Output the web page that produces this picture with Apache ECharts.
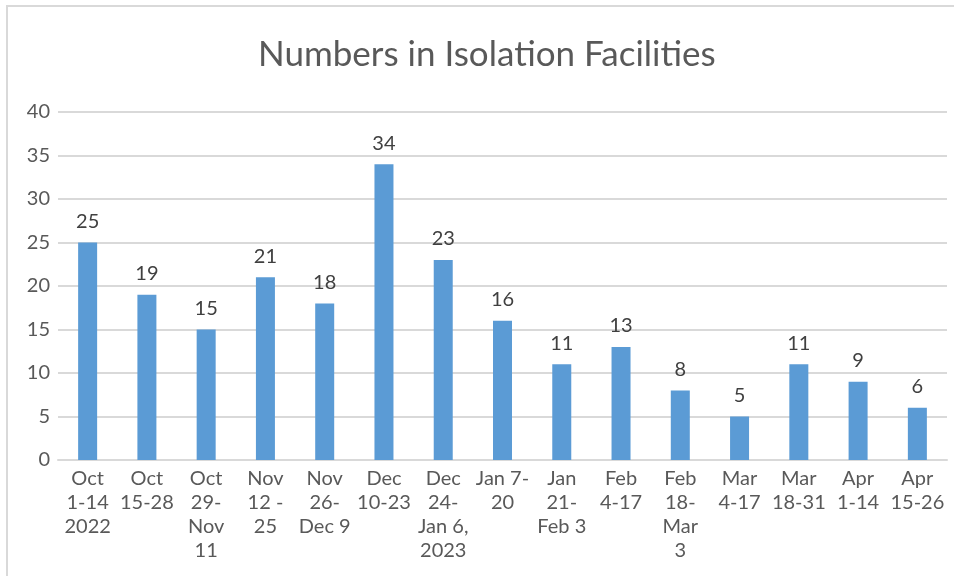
<!DOCTYPE html>
<html>
<head>
<meta charset="utf-8">
<script src="https://cdn.jsdelivr.net/npm/echarts@6/dist/echarts.min.js"></script>
<style>
  html, body { margin: 0; padding: 0; background: #fff; }
  #chart { width: 954px; height: 576px; }
</style>
</head>
<body>
<div id="chart"></div>
<script>
const categories = [
  'Oct\n1-14\n2022', 'Oct\n15-28', 'Oct\n29-\nNov\n11', 'Nov\n12 -\n25', 'Nov\n26-\nDec 9',
  'Dec\n10-23', 'Dec\n24-\nJan 6,\n2023', 'Jan 7-\n20', 'Jan\n21-\nFeb 3', 'Feb\n4-17',
  'Feb\n18-\nMar\n3', 'Mar\n4-17', 'Mar\n18-31', 'Apr\n1-14', 'Apr\n15-26'
];
const counts = [25, 19, 15, 21, 18, 34, 23, 16, 11, 13, 8, 5, 11, 9, 6];
const yTicks = {min: 0, max: 40, interval: 5};

const font = 'Lato, "Open Sans", sans-serif';
var myChart = echarts.init(document.getElementById('chart'));

myChart.setOption({
  animation: false,
  textStyle: {fontFamily: font, color: '#595959'},
  title: {
    text: 'Numbers in Isolation Facilities',
    left: 253,
    top: 32,
    textStyle: {fontFamily: font, fontSize: 35, fontWeight: 'normal', color: '#595959'}
  },
  graphic: [{
    type: 'rect',
    shape: {x: 7, y: 6, width: 960, height: 600},
    style: {fill: 'none', stroke: '#d9d9d9', lineWidth: 2},
    silent: true
  }],
  legend: {show: false},
  grid: {left: 58, right: 7, top: 112, bottom: 116},
  xAxis: {
    type: 'category',
    data: categories,
    axisTick: {show: false},
    axisLine: {lineStyle: {color: '#d9d9d9', width: 2}},
    axisLabel: {
      interval: 0,
      margin: 7,
      fontSize: 20,
      lineHeight: 24,
      color: '#595959',
      fontFamily: font
    }
  },
  yAxis: {
    type: 'value',
    min: yTicks.min,
    max: yTicks.max,
    interval: yTicks.interval,
    axisLine: {show: false},
    axisTick: {show: false},
    splitLine: {lineStyle: {color: '#d9d9d9', width: 2}},
    axisLabel: {fontSize: 20, margin: 8, color: '#595959', fontFamily: font}
  },
  series: [{
    type: 'bar',
    data: counts,
    barWidth: 19,
    itemStyle: {color: '#5b9bd5'},
    label: {
      show: true,
      position: 'top',
      distance: 11,
      fontSize: 20,
      color: '#404040',
      fontFamily: font
    }
  }]
});
</script>
</body>
</html>
